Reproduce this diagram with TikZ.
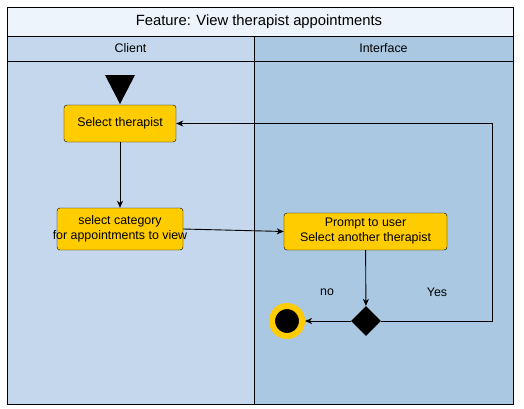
\documentclass[tikz,border=0pt]{standalone}
\usepackage{fontspec}
\setmainfont{Liberation Sans}
\usepackage{xcolor}
\usetikzlibrary{arrows.meta,shapes.geometric}
\definecolor{title_blue}{HTML}{EEF4FC}
\definecolor{client_blue}{HTML}{C4D7ED}
\definecolor{iface_blue}{HTML}{AAC8E2}
\definecolor{box_yellow}{HTML}{FFCC00}

\begin{document}
\begin{tikzpicture}[x=1pt,y=-1pt,>={Stealth[length=7pt,width=6pt,inset=2pt]},
    activity/.style={draw,fill=box_yellow,rounded corners=3pt,inner sep=0pt,align=center,font=\fontsize{12.4}{15}\selectfont},
    lane/.style={draw,line width=0.9pt},
    label/.style={font=\fontsize{12.4}{15}\selectfont}]

    \useasboundingbox (0,0) rectangle (524,408);

    % Les couloirs et le titre
    \draw[lane,fill=client_blue] (7,61) rectangle (254,404);
    \draw[lane,fill=iface_blue] (254,61) rectangle (513,404);
    \draw[lane,fill=client_blue] (7,36) rectangle (254,61);
    \draw[lane,fill=iface_blue] (254,36) rectangle (513,61);
    \draw[lane,fill=title_blue] (7,7) rectangle (513,36);
    \node[font=\fontsize{14.8}{17}\selectfont] (title) at (259,21.5) {Feature: View therapist appointments};
    \node[label] (client) at (130.5,48.5) {Client};
    \node[label] (iface) at (383.5,48.5) {Interface};

    % Le départ
    \fill (105,75) -- (135,75) -- (120,104) -- cycle;

    % Les activités
    \node[activity,minimum width=112,minimum height=37] (therapist) at (120,123.5) {Select therapist};
    \node[activity,minimum width=126,minimum height=42] (category) at (120,229) {select category\\\makebox[0pt]{for appointments to view}};
    \node[activity,minimum width=163,minimum height=37] (prompt) at (365.5,231.5) {Prompt to user\\Select another therapist};

    % Décision et fin
    \node[diamond,fill=black,minimum width=30,minimum height=30,inner sep=0pt] (decision) at (366,321) {};
    \node[circle,fill=black,draw=box_yellow,line width=6pt,minimum size=30,inner sep=0pt] (final) at (287,321) {};
    \coordinate (loop) at (492,123.5);

    % Les flèches
    \draw[->,line width=0.9pt] (therapist) -- (category);
    \draw[->,line width=0.9pt] (category.east) -- (prompt.west);
    \draw[->,line width=0.9pt] (prompt) -- (decision);
    \draw[->,line width=0.9pt] (decision) -- (final);
    \draw[->,line width=0.9pt] (decision.east) -- (decision.east -| loop) -- (loop) -- (therapist.east);

    \node[label] (no) at (327,292) {no};
    \node[label] (yes) at (437,292) {Yes};
\end{tikzpicture}
\end{document}
